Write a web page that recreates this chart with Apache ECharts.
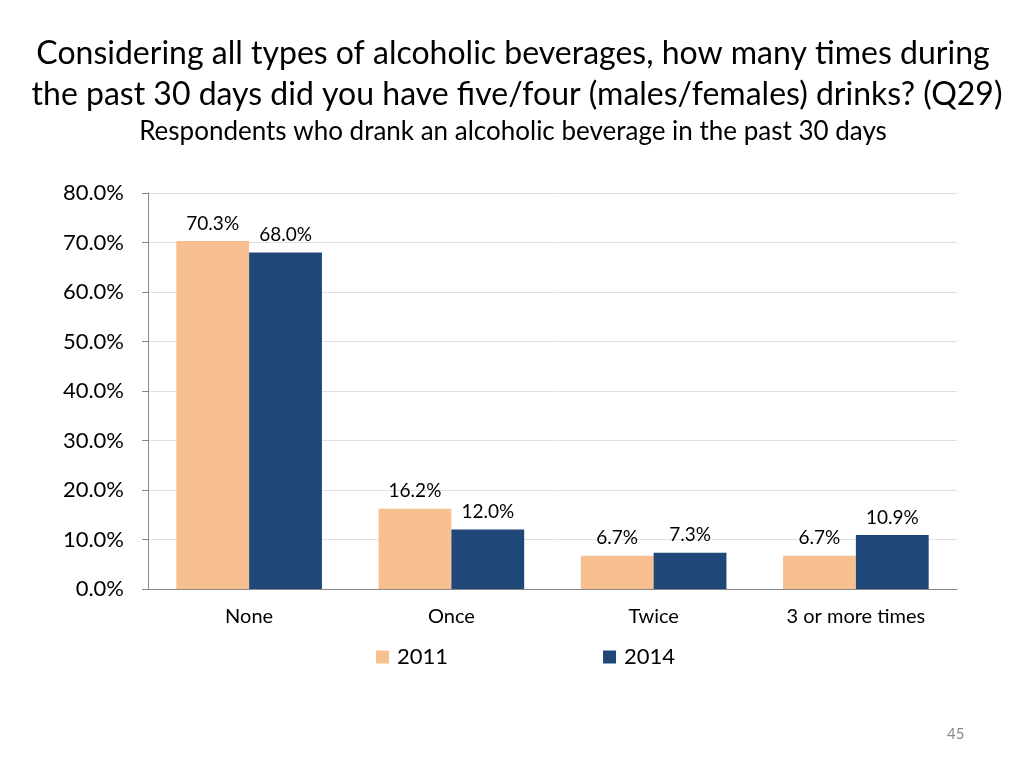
<!DOCTYPE html>
<html>
<head>
<meta charset="utf-8">
<script src="https://cdn.jsdelivr.net/npm/echarts@6/dist/echarts.min.js"></script>
<style>html,body{margin:0;padding:0;background:#fff}#c{width:1024px;height:768px}</style>
</head>
<body>
<div id="c"></div>
<script>
const categories = ['None', 'Once', 'Twice', '3 or more times'];
const values2011 = [70.3, 16.2, 6.7, 6.7];
const values2014 = [68.0, 12.0, 7.3, 10.9];
const yTicks = [0, 10, 20, 30, 40, 50, 60, 70, 80];

const FONT = 'Lato, "Open Sans", sans-serif';
const chart = echarts.init(document.getElementById('c'));
const lbl = {
  show: true, position: 'top', distance: 8,
  fontFamily: FONT, fontSize: 19, color: '#000',
  formatter: p => p.value.toFixed(1) + '%'
};
chart.setOption({
  animation: false,
  title: [
    { text: 'Considering all types of alcoholic beverages, how many times during',
      left: 508, top: 33, textAlign: 'center',
      textStyle: { fontFamily: FONT, fontSize: 32, fontWeight: 'normal', color: '#000' } },
    { text: 'the past 30 days did you have five/four (males/females) drinks? (Q29)',
      left: 512, top: 74, textAlign: 'center',
      textStyle: { fontFamily: FONT, fontSize: 32, fontWeight: 'normal', color: '#000' } },
    { text: 'Respondents who drank an alcoholic beverage in the past 30 days',
      left: 508, top: 114, textAlign: 'center',
      textStyle: { fontFamily: FONT, fontSize: 26, fontWeight: 'normal', color: '#000' } },
    { text: '45', left: 942, top: 722,
      textStyle: { fontFamily: FONT, fontSize: 15, fontWeight: 'normal', color: '#888' } }
  ],
  grid: { left: 148, right: 67, top: 193, bottom: 179, containLabel: false },
  legend: {
    data: ['2011', '2014'], left: 371, top: 641, itemGap: 155,
    itemWidth: 13, itemHeight: 13, icon: 'rect',
    textStyle: { fontFamily: FONT, fontSize: 22, color: '#000', padding: [0, 0, 0, 3] }
  },
  xAxis: {
    type: 'category', data: categories,
    axisLine: { lineStyle: { color: '#888' } },
    axisTick: { show: false },
    axisLabel: { fontFamily: FONT, fontSize: 20, color: '#000', margin: 18 }
  },
  yAxis: {
    type: 'value', min: yTicks[0], max: yTicks[yTicks.length - 1], interval: 10,
    axisLine: { show: true, lineStyle: { color: '#888' } },
    axisTick: { show: true, length: 6, lineStyle: { color: '#888' } },
    splitLine: { lineStyle: { color: '#e0e0e0' } },
    axisLabel: { fontFamily: FONT, fontSize: 22, color: '#000', margin: 24,
      formatter: v => v.toFixed(1) + '%' }
  },
  series: [
    { name: '2011', type: 'bar', data: values2011, barGap: '0%', barCategoryGap: '28%',
      itemStyle: { color: '#F8BF90' }, label: lbl },
    { name: '2014', type: 'bar', data: values2014,
      itemStyle: { color: '#1F4778' }, label: lbl }
  ]
});
</script>
</body>
</html>
